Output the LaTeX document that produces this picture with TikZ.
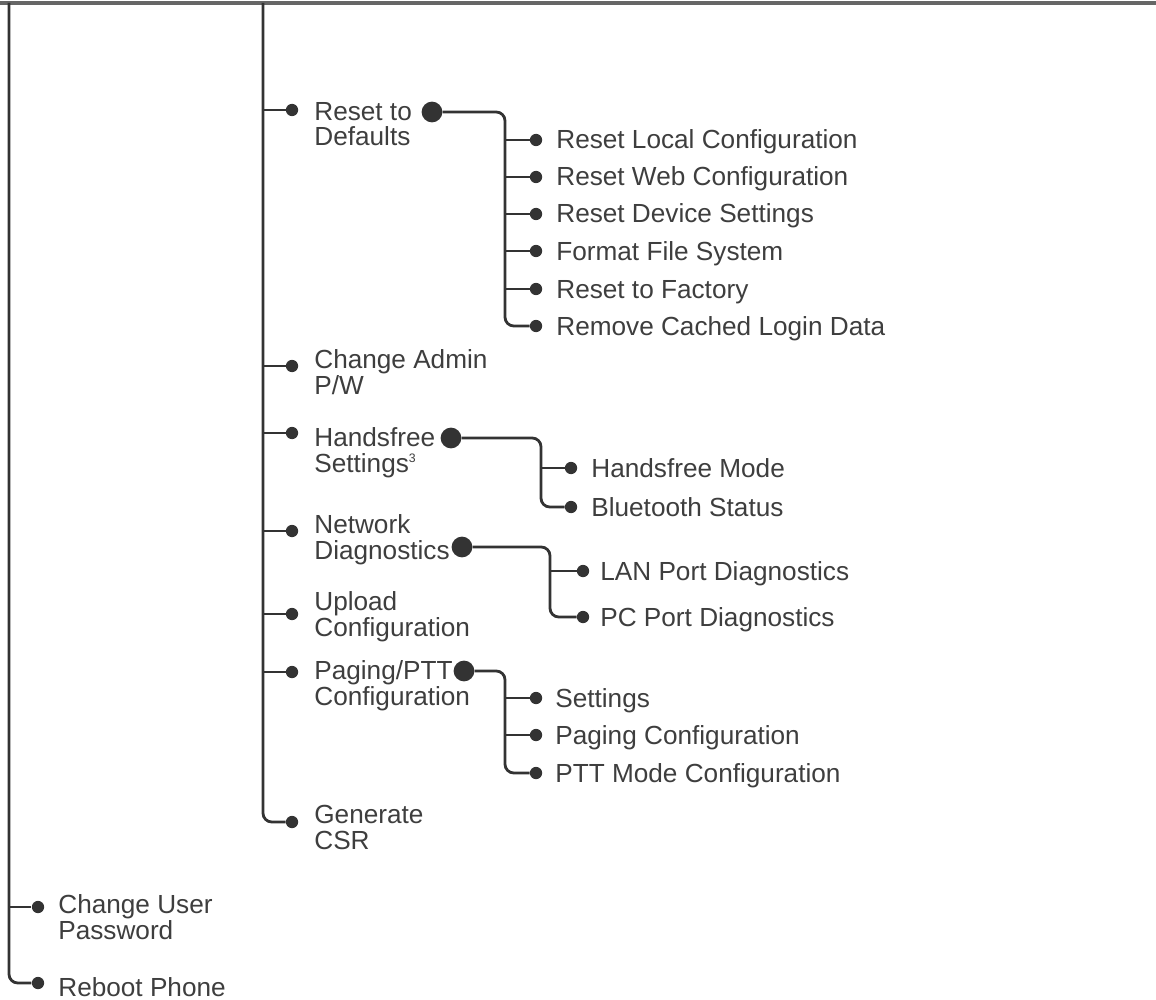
\documentclass[tikz,border=0pt]{standalone}
\usepackage{fontspec}
\setmainfont{Liberation Sans}
\usepackage{tikz}
\definecolor{WireGrey}{HTML}{333333}
\definecolor{InkGrey}{HTML}{3E3E3E}

\begin{document}
\begin{tikzpicture}[x=0.02cm, y=-0.02cm,
    every node/.style={font=\fontsize{14.9}{14.7}\selectfont},
    pip/.style={circle, fill=WireGrey, inner sep=0pt, minimum size=7pt},
    hub/.style={circle, fill=WireGrey, inner sep=0pt, minimum size=11.8pt},
    item/.style={anchor=base west, align=left, inner sep=0pt, text=InkGrey},
    wire/.style={draw=WireGrey, line width=1.6pt},
    bendwire/.style={wire, rounded corners=5pt}]
    \useasboundingbox (0,0) rectangle (1156,1000);
    \draw[line width=2.3pt, black!60] (0,3) -- (1156,3);
    \coordinate (outer) at (9,3);
    \coordinate (inner) at (263,3);

    % admin menu entries (two lines each, placed by the last line)
    \foreach \name/\y/\ty/\txt in {rd/110/111/{Reset to\\Defaults}, cap/366/359/{Change Admin\\P/W},
        hf/433/437/{Handsfree\\Settings\textsuperscript{\scriptsize 3}}, nd/531/524/{Network\\Diagnostics},
        up/614/601/{Upload\\Configuration}, pg/672/670/{Paging/PTT\\Configuration},
        csr/822/814/{Generate\\CSR}} {
      \node[pip] (\name) at (292,\y) {};
      \node[item] (\name t) at (314,\ty+35) {\txt};
    }
    \foreach \name in {rd, cap, hf, nd, up, pg} {
      \draw[wire] (\name -| inner) -- (\name);
    }
    \draw[bendwire] (inner) |- (csr);

    % user entries
    \node[pip] (cup) at (38,907) {};
    \node[item] (cupt) at (58,904+35) {Change User\\Password};
    \node[pip] (rbp) at (38,983) {};
    \node[item] (rbpt) at (58,987+9) {Reboot Phone};
    \draw[wire] (cup -| outer) -- (cup);
    \draw[bendwire] (outer) |- (rbp);

    % sub menus
    \node[hub] (rdhub) at (432,112) {};
    \coordinate (rdbus) at (505,112);
    \foreach \name/\y/\txt in {rd1/140/Reset Local Configuration, rd2/177/Reset Web Configuration,
        rd3/214/Reset Device Settings, rd4/251/Format File System, rd5/289/Reset to Factory,
        rd6/326/Remove Cached Login Data} {
      \node[pip] (\name) at (536,\y) {};
      \node[item] (\name t) at (556,\y+9) {\txt};
    }
    \foreach \name in {rd1, rd2, rd3, rd4, rd5} {
      \draw[wire] (\name -| rdbus) -- (\name);
    }
    \draw[bendwire] (rdhub) -- (rdbus) |- (rd6);

    \node[hub] (hfhub) at (451,438) {};
    \coordinate (hfbus) at (541,438);
    \foreach \name/\y/\txt in {hf1/468/Handsfree Mode, hf2/507/Bluetooth Status} {
      \node[pip] (\name) at (571,\y) {};
      \node[item] (\name t) at (591,\y+9) {\txt};
    }
    \draw[wire] (hf1 -| hfbus) -- (hf1);
    \draw[bendwire] (hfhub) -- (hfbus) |- (hf2);

    \node[hub] (ndhub) at (462,547) {};
    \coordinate (ndbus) at (550,547);
    \foreach \name/\y/\txt in {nd1/571/LAN Port Diagnostics, nd2/617/PC Port Diagnostics} {
      \node[pip] (\name) at (583,\y) {};
      \node[item] (\name t) at (600,\y+9) {\txt};
    }
    \draw[wire] (nd1 -| ndbus) -- (nd1);
    \draw[bendwire] (ndhub) -- (ndbus) |- (nd2);

    \node[hub] (pghub) at (464,671) {};
    \coordinate (pgbus) at (505,671);
    \foreach \name/\y/\txt in {pg1/698/Settings, pg2/735/Paging Configuration, pg3/773/PTT Mode Configuration} {
      \node[pip] (\name) at (536,\y) {};
      \node[item] (\name t) at (555,\y+9) {\txt};
    }
    \foreach \name in {pg1, pg2} {
      \draw[wire] (\name -| pgbus) -- (\name);
    }
    \draw[bendwire] (pghub) -- (pgbus) |- (pg3);
\end{tikzpicture}
\end{document}
